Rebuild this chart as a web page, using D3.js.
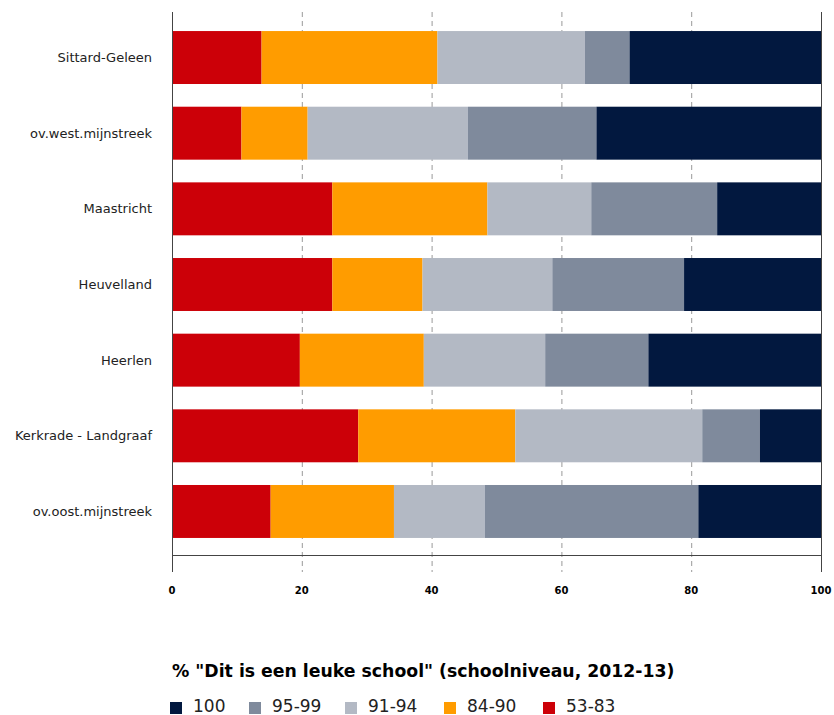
<!DOCTYPE html>
<html><head><meta charset="utf-8">
<script src="https://cdn.jsdelivr.net/npm/d3@7"></script>
<style>body{margin:0;background:#fff}svg{display:block}</style>
</head><body>
<script>
const categories = ["Sittard-Geleen","ov.west.mijnstreek","Maastricht","Heuvelland","Heerlen","Kerkrade - Landgraaf","ov.oost.mijnstreek"];
const seriesNames = ["53-83","84-90","91-94","95-99","100"];
const s5383 = [13.8,10.7,24.7,24.7,19.7,28.7,15.2];
const s8490 = [27.1,10.2,23.9,13.9,19.1,24.2,19.0];
const s9194 = [22.7,24.7,16.0,20.0,18.7,28.8,14.0];
const s9599 = [6.9,19.8,19.4,20.3,15.9,8.9,32.9];
const s100 = [29.5,34.6,16.0,21.1,26.6,9.4,18.9];
const xTicks = [0,20,40,60,80,100];
const legendOrder = ["100","95-99","91-94","84-90","53-83"];
const colors = {"53-83":"#CC0008","84-90":"#FF9C00","91-94":"#B3B9C4","95-99":"#7F8A9C","100":"#02183F"};
const titleText = '% "Dit is een leuke school" (schoolniveau, 2012-13)';

const W=834,H=715;
const svg=d3.select("body").append("svg").attr("width",W).attr("height",H);
const x=d3.scaleLinear().domain([0,100]).range([172,821]);
const y=d3.scaleBand().domain(categories).range([19.7,549.3]).paddingInner(0.3).paddingOuter(0.15);
const topY=12,axisY=555,tickEnd=572;

// gridlines
svg.append("g").selectAll("line").data(xTicks.filter(d=>d>0&&d<100)).join("line")
  .attr("x1",d=>x(d)+0.5).attr("x2",d=>x(d)+0.5).attr("y1",topY).attr("y2",tickEnd)
  .attr("stroke","#999").attr("stroke-dasharray","5,4").attr("stroke-width",1);

const rows = categories.map((c,i)=>({cat:c,vals:[s5383[i],s8490[i],s9194[i],s9599[i],s100[i]]}));
const stackData = rows.map(r=>{const o={cat:r.cat};seriesNames.forEach((s,k)=>o[s]=r.vals[k]);return o;});
const stack=d3.stack().keys(seriesNames)(stackData);
svg.append("g").selectAll("g").data(stack).join("g").attr("fill",d=>colors[d.key])
  .selectAll("rect").data(d=>d).join("rect")
  .attr("x",d=>x(d[0])).attr("width",d=>Math.max(0,Math.min(x(d[1]),x(100))-x(d[0])))
  .attr("y",d=>y(d.data.cat)).attr("height",y.bandwidth());

// axes lines
svg.append("line").attr("x1",172.5).attr("x2",172.5).attr("y1",topY).attr("y2",tickEnd).attr("stroke","#444");
svg.append("line").attr("x1",821.5).attr("x2",821.5).attr("y1",topY).attr("y2",tickEnd).attr("stroke","#444");
svg.append("line").attr("x1",172).attr("x2",822).attr("y1",axisY+0.5).attr("y2",axisY+0.5).attr("stroke","#444");

// x tick labels
svg.append("g").selectAll("text").data(xTicks).join("text")
  .attr("x",d=>x(d)).attr("y",594).attr("text-anchor","middle")
  .attr("font-family","DejaVu Sans").attr("font-weight","bold").attr("font-size",10).attr("fill","#000")
  .text(d=>d);

// category labels
svg.append("g").selectAll("text").data(categories).join("text")
  .attr("x",152).attr("y",d=>y(d)+y.bandwidth()/2).attr("dy","0.35em").attr("text-anchor","end")
  .attr("font-family","DejaVu Sans").attr("font-size",13).attr("fill","#222")
  .text(d=>d);

// title
svg.append("text").attr("x",172).attr("y",677).attr("font-family","DejaVu Sans").attr("font-weight","bold")
  .attr("font-size",17.3).attr("fill","#000").text(titleText);

// legend
const lx=[170,249,345,444,543];
const lg=svg.append("g").selectAll("g").data(legendOrder).join("g").attr("transform",(d,i)=>`translate(${lx[i]},0)`);
lg.append("rect").attr("x",0).attr("y",702).attr("width",12).attr("height",12).attr("fill",d=>colors[d]);
lg.append("text").attr("x",23).attr("y",712).attr("font-family","DejaVu Sans").attr("font-size",17).attr("fill","#222").text(d=>d);
</script>
</body></html>
